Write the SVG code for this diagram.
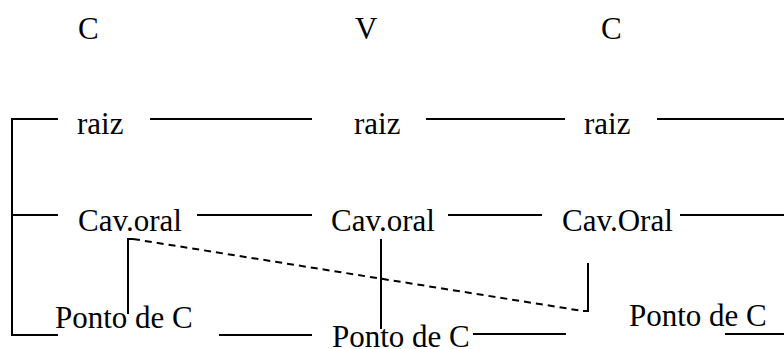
<svg xmlns="http://www.w3.org/2000/svg" width="784" height="349" viewBox="0 0 784 349">
<style>
text{font-family:"Liberation Serif","Times New Roman",serif;font-size:31px;fill:#000}
.l{stroke:#000;stroke-width:2;fill:none}
.d{stroke:#000;stroke-width:2;fill:none;stroke-dasharray:7 5}
</style>
<rect width="784" height="349" fill="#fff"/>
<g id="hdr-c1"><text x="78" y="39">C</text></g>
<g id="hdr-v"><text x="355" y="39">V</text></g>
<g id="hdr-c2"><text x="601" y="39">C</text></g>
<g id="raiz1"><text x="77" y="134">raiz</text></g>
<g id="raiz2"><text x="354" y="134">raiz</text></g>
<g id="raiz3"><text x="584" y="134">raiz</text></g>
<g id="cav1"><text x="78" y="231">Cav.oral</text></g>
<g id="cav2"><text x="331" y="231">Cav.oral</text></g>
<g id="cav3"><text x="562" y="231">Cav.Oral</text></g>
<g id="ponto1"><text x="55" y="328">Ponto de C</text></g>
<g id="ponto2"><text x="332" y="347">Ponto de C</text></g>
<g id="ponto3"><text x="629" y="326">Ponto de C</text></g>
<g id="connectors">
<path class="l" d="M58 119H12V335H58M12 215H58"/>
<path class="l" d="M150 119H312M426 119H565M657 119H784"/>
<path class="l" d="M197 215H312M448 215H542M680 215H784"/>
<path class="l" d="M219 335H312M473 334H566M725 334H784"/>
<path class="l" d="M133 239H128V314"/>
<path class="l" d="M381 239V329"/>
<path class="l" d="M588 263V311H583"/>
<path class="d" d="M133 239L583 311"/>
</g>
</svg>
